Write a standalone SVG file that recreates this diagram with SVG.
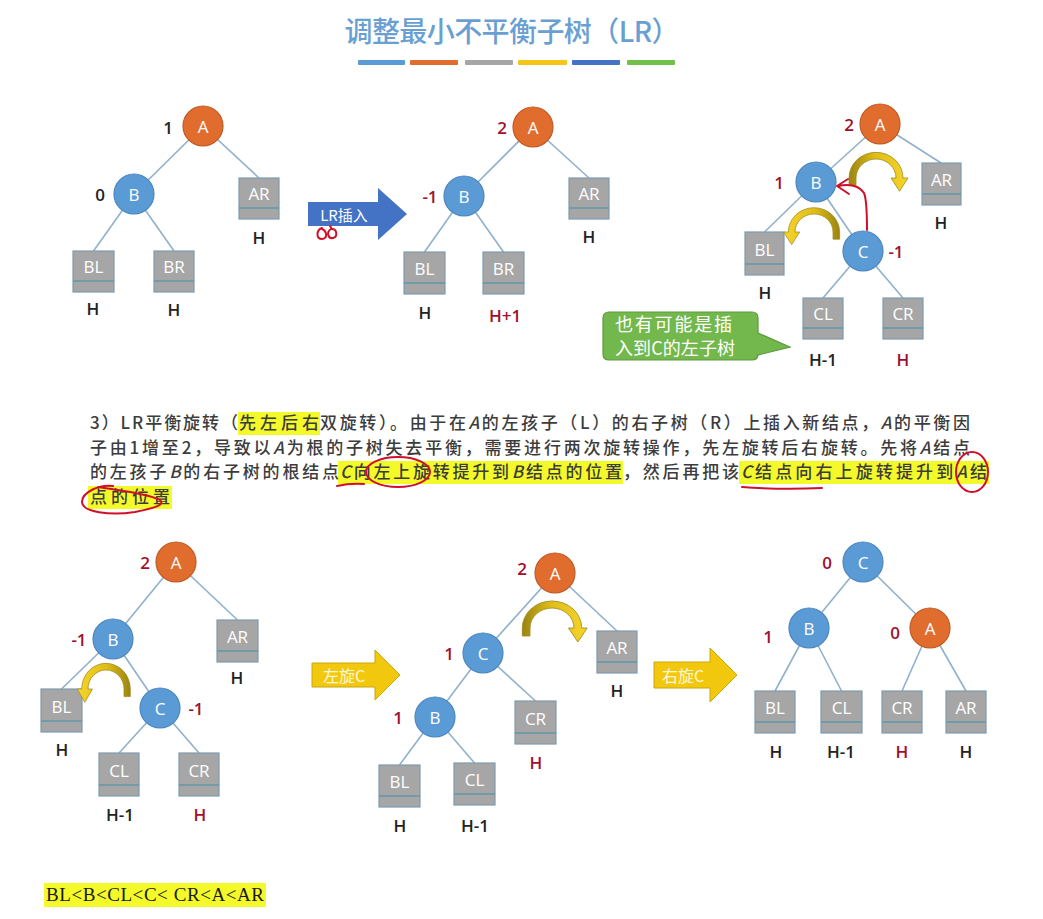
<svg xmlns="http://www.w3.org/2000/svg" width="1043" height="919" viewBox="0 0 1043 919">
<style>
.edge{stroke:#8fb1cc;stroke-width:1.6;fill:none}
.nb{fill:#5b9bd5;stroke:#4a86bf;stroke-width:1.2}
.no{fill:#e06c2e;stroke:#bf5a26;stroke-width:1.2}
.bx{fill:#a6a6a6;stroke:#7f9cb0;stroke-width:1.2}
.bs{stroke:#5f97a8;stroke-width:1.5}
.lbl{font-family:"Open Sans","Liberation Sans",sans-serif;font-size:17px;fill:#ffffff;text-anchor:middle;dominant-baseline:central}
.bf{font-family:"Open Sans","Liberation Sans",sans-serif;font-size:17px;font-weight:600;text-anchor:middle;dominant-baseline:central;fill:#a0102d}
.bk{fill:#222}
.hh{font-family:"Open Sans","Liberation Sans",sans-serif;font-size:17px;font-weight:600;text-anchor:middle;dominant-baseline:central;fill:#222}
.hr{fill:#a0102d}
.para{font-family:"Noto Sans CJK SC","Noto Sans",sans-serif;font-size:17px;font-weight:500;fill:#3c3c3c}
.hl{fill:#f4fa2a}
.ann{stroke:#d0102a;stroke-width:2;fill:none;stroke-linecap:round;stroke-linejoin:round}
.curl{fill:url(#cg);stroke:#9c8a1e;stroke-width:0.8}
.yarr{fill:#f2c80f;stroke:#c9a60a;stroke-width:1}
.ytxt{font-family:"Noto Sans CJK SC",sans-serif;font-size:16px;fill:#fff8d8;text-anchor:middle;dominant-baseline:central}
</style>
<defs>
<linearGradient id="cg" x1="0" y1="0" x2="1" y2="0">
<stop offset="0" stop-color="#9a8410"/>
<stop offset="0.45" stop-color="#e0be18"/>
<stop offset="1" stop-color="#f7d42a"/>
</linearGradient>
<path id="curlp" d="M -27 8 L -27 0 A 27 27 0 0 1 27 0 L 32 0 L 23.5 14 L 15 0 L 20 0 A 20 20 0 0 0 -20 0 L -20 8 Z"/>
</defs>
<rect width="1043" height="919" fill="#ffffff"/>

<!-- Title -->
<g id="title">
<text x="512" y="42" text-anchor="middle" font-family="Noto Sans CJK SC,sans-serif" font-size="28" font-weight="500" fill="#6a9fd3" textLength="335">调整最小不平衡子树（LR）</text>
<rect x="358" y="60" width="47" height="5" rx="1" fill="#5b9bd5"/>
<rect x="410" y="60" width="48" height="5" rx="1" fill="#e06c2e"/>
<rect x="465" y="60" width="48" height="5" rx="1" fill="#a6a6a6"/>
<rect x="518" y="60" width="49" height="5" rx="1" fill="#f5c518"/>
<rect x="572" y="60" width="48" height="5" rx="1" fill="#4472c4"/>
<rect x="627" y="60" width="48" height="5" rx="1" fill="#70c04a"/>
</g>

<!-- Connectors -->
<g id="connectors">
<line class="edge" x1="203" y1="126" x2="134" y2="194"/>
<line class="edge" x1="203" y1="126" x2="259" y2="178"/>
<line class="edge" x1="134" y1="194" x2="93.5" y2="251"/>
<line class="edge" x1="134" y1="194" x2="174" y2="251"/>

<line class="edge" x1="533" y1="127" x2="464" y2="196"/>
<line class="edge" x1="533" y1="127" x2="589" y2="178"/>
<line class="edge" x1="464" y1="196" x2="424.5" y2="252"/>
<line class="edge" x1="464" y1="196" x2="503.5" y2="252"/>

<line class="edge" x1="880" y1="124" x2="816" y2="182"/>
<line class="edge" x1="880" y1="124" x2="941" y2="163"/>
<line class="edge" x1="816" y1="182" x2="764.5" y2="232"/>
<line class="edge" x1="816" y1="182" x2="863" y2="251"/>
<line class="edge" x1="863" y1="251" x2="823" y2="298"/>
<line class="edge" x1="863" y1="251" x2="903" y2="298"/>

<line class="edge" x1="176" y1="562" x2="113" y2="639"/>
<line class="edge" x1="176" y1="562" x2="237.5" y2="620"/>
<line class="edge" x1="113" y1="639" x2="61.5" y2="689"/>
<line class="edge" x1="113" y1="639" x2="160" y2="708"/>
<line class="edge" x1="160" y1="708" x2="119" y2="753"/>
<line class="edge" x1="160" y1="708" x2="199" y2="753"/>

<line class="edge" x1="555" y1="573" x2="483" y2="653"/>
<line class="edge" x1="555" y1="573" x2="617" y2="631"/>
<line class="edge" x1="483" y1="653" x2="435" y2="717"/>
<line class="edge" x1="483" y1="653" x2="535.5" y2="701"/>
<line class="edge" x1="435" y1="717" x2="399.5" y2="765"/>
<line class="edge" x1="435" y1="717" x2="474.5" y2="763"/>

<line class="edge" x1="863" y1="562" x2="809" y2="628"/>
<line class="edge" x1="863" y1="562" x2="930" y2="628"/>
<line class="edge" x1="809" y1="628" x2="775" y2="691"/>
<line class="edge" x1="809" y1="628" x2="841.5" y2="691"/>
<line class="edge" x1="930" y1="628" x2="902" y2="691"/>
<line class="edge" x1="930" y1="628" x2="966" y2="691"/>
</g>

<!-- Tree 1 -->
<g id="t1-A"><circle class="no" cx="203" cy="126" r="20"/><text class="lbl" x="203" y="126">A</text><text class="bf bk" x="168" y="127">1</text></g>
<g id="t1-B"><circle class="nb" cx="134" cy="194" r="20"/><text class="lbl" x="134" y="194">B</text><text class="bf bk" x="100" y="194">0</text></g>
<g id="t1-AR"><rect class="bx" x="239" y="178" width="40" height="41"/><line class="bs" x1="239" y1="208" x2="279" y2="208"/><text class="lbl" x="259" y="193">AR</text><text class="hh" x="259" y="237">H</text></g>
<g id="t1-BL"><rect class="bx" x="73" y="251" width="41" height="41"/><line class="bs" x1="73" y1="281" x2="114" y2="281"/><text class="lbl" x="93.5" y="266">BL</text><text class="hh" x="93" y="308">H</text></g>
<g id="t1-BR"><rect class="bx" x="154" y="251" width="40" height="41"/><line class="bs" x1="154" y1="281" x2="194" y2="281"/><text class="lbl" x="174" y="266">BR</text><text class="hh" x="174" y="309">H</text></g>

<!-- LR insert arrow -->
<g id="arrow-insert">
<polygon points="308,202 378,202 378,188 407,214 378,240 378,226 308,226" fill="#4472c4"/>
<text x="344" y="214" font-family="Noto Sans CJK SC,sans-serif" font-size="15" fill="#ffffff" text-anchor="middle" dominant-baseline="central">LR插入</text>
<path class="ann" d="M 322 228 C 316 230 316 239 322 239 C 328 239 327 231 322 229 M 331 229 C 326 232 328 239 333 238 C 338 237 337 229 332 229 L 330 226"/>
</g>

<!-- Tree 2 -->
<g id="t2-A"><circle class="no" cx="533" cy="127" r="20"/><text class="lbl" x="533" y="127">A</text><text class="bf" x="502" y="127">2</text></g>
<g id="t2-B"><circle class="nb" cx="464" cy="196" r="20"/><text class="lbl" x="464" y="196">B</text><text class="bf" x="430" y="196">-1</text></g>
<g id="t2-AR"><rect class="bx" x="569" y="178" width="40" height="41"/><line class="bs" x1="569" y1="208" x2="609" y2="208"/><text class="lbl" x="589" y="193">AR</text><text class="hh" x="589" y="236">H</text></g>
<g id="t2-BL"><rect class="bx" x="404" y="252" width="41" height="42"/><line class="bs" x1="404" y1="283" x2="445" y2="283"/><text class="lbl" x="424.5" y="268">BL</text><text class="hh" x="425" y="312">H</text></g>
<g id="t2-BR"><rect class="bx" x="483" y="252" width="41" height="42"/><line class="bs" x1="483" y1="283" x2="524" y2="283"/><text class="lbl" x="503.5" y="268">BR</text><text class="hh hr" x="505" y="315">H+1</text></g>

<!-- Tree 3 -->
<g id="t3-A"><circle class="no" cx="880" cy="124" r="20"/><text class="lbl" x="880" y="124">A</text><text class="bf" x="849" y="124">2</text></g>
<g id="t3-B"><circle class="nb" cx="816" cy="182" r="20"/><text class="lbl" x="816" y="182">B</text><text class="bf" x="779" y="182">1</text></g>
<g id="t3-AR"><rect class="bx" x="922" y="163" width="39" height="42"/><line class="bs" x1="922" y1="194" x2="961" y2="194"/><text class="lbl" x="941.5" y="179">AR</text><text class="hh" x="941" y="222">H</text></g>
<g id="t3-BL"><rect class="bx" x="745" y="232" width="39" height="43"/><line class="bs" x1="745" y1="264" x2="784" y2="264"/><text class="lbl" x="764.5" y="249">BL</text><text class="hh" x="765" y="292">H</text></g>
<g id="t3-C"><circle class="nb" cx="863" cy="251" r="20"/><text class="lbl" x="863" y="251">C</text><text class="bf" x="896" y="251">-1</text></g>
<g id="t3-CL"><rect class="bx" x="803" y="298" width="40" height="41"/><line class="bs" x1="803" y1="328" x2="843" y2="328"/><text class="lbl" x="823" y="313">CL</text><text class="hh" x="823" y="359">H-1</text></g>
<g id="t3-CR"><rect class="bx" x="883" y="298" width="40" height="41"/><line class="bs" x1="883" y1="328" x2="923" y2="328"/><text class="lbl" x="903" y="313">CR</text><text class="hh hr" x="903" y="359">H</text></g>
<g id="t3-curls">
<use href="#curlp" class="curl" transform="translate(876,178) scale(1,0.95)"/>
<use href="#curlp" class="curl" transform="translate(814,232) scale(-0.95,0.9)"/>
<path class="ann" d="M 867 230 C 867 215 867 200 864 193 C 858 184 848 184 838 186 M 848 179 L 837 186 L 849 194"/>
</g>
<g id="callout">
<path d="M 609 312 L 752 312 Q 758 312 758 318 L 758 333 L 790 347 L 758 355 L 758 354 Q 758 360 752 360 L 609 360 Q 603 360 603 354 L 603 318 Q 603 312 609 312 Z" fill="#72b84c" stroke="#5c9a3c" stroke-width="1.2"/>
<text x="615" y="331" font-family="Noto Sans CJK SC,sans-serif" font-size="18" fill="#ffffff" textLength="117">也有可能是插</text>
<text x="615" y="355" font-family="Noto Sans CJK SC,sans-serif" font-size="18" fill="#ffffff" textLength="120">入到C的左子树</text>
</g>

<!-- Paragraph -->
<g id="paragraph">
<rect class="hl" x="238" y="412" width="82" height="23"/>
<rect class="hl" x="338" y="461" width="285" height="23"/>
<rect class="hl" x="739" y="461" width="250" height="23"/>
<rect class="hl" x="88" y="486" width="84" height="23"/>
<text class="para" x="90" y="429" textLength="148" lengthAdjust="spacing">3）LR平衡旋转（</text>
<text class="para" x="239" y="429" textLength="80" lengthAdjust="spacing">先左后右</text>
<text class="para" x="320" y="429" textLength="650" lengthAdjust="spacing">双旋转）。由于在<tspan font-style="italic">A</tspan>的左孩子（L）的右子树（R）上插入新结点，<tspan font-style="italic">A</tspan>的平衡因</text>
<text class="para" x="90" y="454" textLength="880" lengthAdjust="spacing">子由1增至2，导致以<tspan font-style="italic">A</tspan>为根的子树失去平衡，需要进行两次旋转操作，先左旋转后右旋转。先将<tspan font-style="italic">A</tspan>结点</text>
<text class="para" x="90" y="478" textLength="249" lengthAdjust="spacing">的左孩子<tspan font-style="italic">B</tspan>的右子树的根结点</text>
<text class="para" x="340" y="478" textLength="282" lengthAdjust="spacing"><tspan font-style="italic">C</tspan>向左上旋转提升到<tspan font-style="italic">B</tspan>结点的位置</text>
<text class="para" x="623" y="478" textLength="116" lengthAdjust="spacing">，然后再把该</text>
<text class="para" x="741" y="478" textLength="246" lengthAdjust="spacing"><tspan font-style="italic">C</tspan>结点向右上旋转提升到<tspan font-style="italic">A</tspan>结</text>
<text class="para" x="90" y="503" textLength="80" lengthAdjust="spacing">点的位置</text>
<path class="ann" d="M 337 486 Q 350 483 364 484"/>
<ellipse class="ann" cx="398" cy="472" rx="32" ry="15"/>
<path class="ann" d="M 742 487 Q 782 490 822 488"/>
<ellipse class="ann" cx="972" cy="472" rx="16" ry="20"/>
<path class="ann" d="M 113 486 C 100 484 82 492 82 502 C 82 512 110 516 135 512 C 155 508 165 505 160 500 C 150 494 120 490 98 487"/>
</g>

<!-- Tree 4 -->
<g id="t4-A"><circle class="no" cx="176" cy="562" r="20"/><text class="lbl" x="176" y="562">A</text><text class="bf" x="145" y="562">2</text></g>
<g id="t4-B"><circle class="nb" cx="113" cy="639" r="20"/><text class="lbl" x="113" y="639">B</text><text class="bf" x="79" y="639">-1</text></g>
<g id="t4-AR"><rect class="bx" x="217" y="620" width="41" height="42"/><line class="bs" x1="217" y1="651" x2="258" y2="651"/><text class="lbl" x="237.5" y="636">AR</text><text class="hh" x="237" y="677">H</text></g>
<g id="t4-BL"><rect class="bx" x="41" y="689" width="41" height="43"/><line class="bs" x1="41" y1="721" x2="82" y2="721"/><text class="lbl" x="61.5" y="706">BL</text><text class="hh" x="62" y="749">H</text></g>
<g id="t4-C"><circle class="nb" cx="160" cy="708" r="20"/><text class="lbl" x="160" y="708">C</text><text class="bf" x="196" y="708">-1</text></g>
<g id="t4-CL"><rect class="bx" x="99" y="753" width="40" height="43"/><line class="bs" x1="99" y1="785" x2="139" y2="785"/><text class="lbl" x="119" y="770">CL</text><text class="hh" x="120" y="814">H-1</text></g>
<g id="t4-CR"><rect class="bx" x="179" y="753" width="40" height="43"/><line class="bs" x1="179" y1="785" x2="219" y2="785"/><text class="lbl" x="199" y="770">CR</text><text class="hh hr" x="200" y="814">H</text></g>
<g id="t4-curl"><use href="#curlp" class="curl" transform="translate(106,689) scale(-0.9,0.95)"/></g>

<!-- Left rotate arrow -->
<g id="arrow-left">
<polygon class="yarr" points="312,663 375,663 375,650 400,675 375,700 375,687 312,687"/>
<text class="ytxt" x="344" y="675">左旋C</text>
</g>

<!-- Tree 5 -->
<g id="t5-A"><circle class="no" cx="555" cy="573" r="20"/><text class="lbl" x="555" y="573">A</text><text class="bf" x="522" y="568">2</text></g>
<g id="t5-C"><circle class="nb" cx="483" cy="653" r="20"/><text class="lbl" x="483" y="653">C</text><text class="bf" x="449" y="653">1</text></g>
<g id="t5-AR"><rect class="bx" x="597" y="631" width="40" height="42"/><line class="bs" x1="597" y1="662" x2="637" y2="662"/><text class="lbl" x="617" y="647">AR</text><text class="hh" x="617" y="690">H</text></g>
<g id="t5-B"><circle class="nb" cx="435" cy="717" r="20"/><text class="lbl" x="435" y="717">B</text><text class="bf" x="398" y="717">1</text></g>
<g id="t5-CR"><rect class="bx" x="515" y="701" width="41" height="43"/><line class="bs" x1="515" y1="733" x2="556" y2="733"/><text class="lbl" x="535.5" y="718">CR</text><text class="hh hr" x="536" y="762">H</text></g>
<g id="t5-BL"><rect class="bx" x="379" y="765" width="41" height="42"/><line class="bs" x1="379" y1="796" x2="420" y2="796"/><text class="lbl" x="399.5" y="781">BL</text><text class="hh" x="400" y="825">H</text></g>
<g id="t5-CL"><rect class="bx" x="454" y="763" width="41" height="42"/><line class="bs" x1="454" y1="794" x2="495" y2="794"/><text class="lbl" x="474.5" y="779">CL</text><text class="hh" x="475" y="825">H-1</text></g>
<g id="t5-curl"><use href="#curlp" class="curl" transform="translate(552,628) scale(1.1,1)"/></g>

<!-- Right rotate arrow -->
<g id="arrow-right">
<polygon class="yarr" points="654,662 710,662 710,648 737,675 710,702 710,688 654,688"/>
<text class="ytxt" x="683" y="675">右旋C</text>
</g>

<!-- Tree 6 -->
<g id="t6-C"><circle class="nb" cx="863" cy="562" r="20"/><text class="lbl" x="863" y="562">C</text><text class="bf" x="827" y="562">0</text></g>
<g id="t6-B"><circle class="nb" cx="809" cy="628" r="20"/><text class="lbl" x="809" y="628">B</text><text class="bf" x="768" y="636">1</text></g>
<g id="t6-A"><circle class="no" cx="930" cy="628" r="20"/><text class="lbl" x="930" y="628">A</text><text class="bf" x="895" y="632">0</text></g>
<g id="t6-BL"><rect class="bx" x="755" y="691" width="40" height="42"/><line class="bs" x1="755" y1="722" x2="795" y2="722"/><text class="lbl" x="775" y="707">BL</text><text class="hh" x="776" y="751">H</text></g>
<g id="t6-CL"><rect class="bx" x="821" y="691" width="41" height="42"/><line class="bs" x1="821" y1="722" x2="862" y2="722"/><text class="lbl" x="841.5" y="707">CL</text><text class="hh" x="841" y="751">H-1</text></g>
<g id="t6-CR"><rect class="bx" x="882" y="691" width="40" height="42"/><line class="bs" x1="882" y1="722" x2="922" y2="722"/><text class="lbl" x="902" y="707">CR</text><text class="hh hr" x="902" y="751">H</text></g>
<g id="t6-AR"><rect class="bx" x="946" y="691" width="40" height="42"/><line class="bs" x1="946" y1="722" x2="986" y2="722"/><text class="lbl" x="966" y="707">AR</text><text class="hh" x="966" y="751">H</text></g>

<!-- Ordering -->
<g id="order">
<rect class="hl" x="44" y="883" width="222" height="24"/>
<text x="46" y="901" font-family="Liberation Serif,serif" font-size="19" fill="#1a1a1a" textLength="218" lengthAdjust="spacing">BL&lt;B&lt;CL&lt;C&lt; CR&lt;A&lt;AR</text>
</g>
</svg>
